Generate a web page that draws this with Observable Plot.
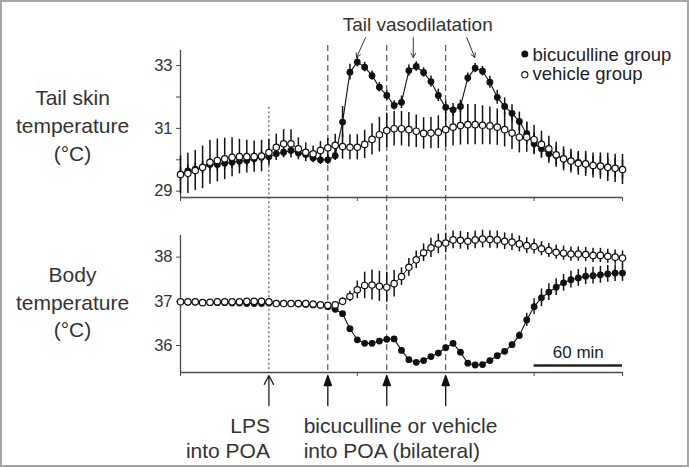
<!DOCTYPE html>
<html><head><meta charset="utf-8">
<script src="https://cdn.jsdelivr.net/npm/d3@7"></script>
<script src="https://cdn.jsdelivr.net/npm/@observablehq/plot@0.6"></script>
<style>
body{margin:0;background:#fff;}
#wrap{position:relative;width:689px;height:467px;overflow:hidden;background:#fff;font-family:"Liberation Sans",Arial,sans-serif;color:#333;}
#wrap > div.p{position:absolute;left:0;}
#border{position:absolute;left:0;top:0;right:0;bottom:0;border:2px solid #a5a5a5;pointer-events:none;}
svg{overflow:visible;}
</style></head><body>
<div id="wrap"><div id="top" class="p" style="top:0"></div><div id="bot" class="p" style="top:215px"></div><div id="border"></div></div>
<script>
// time (min) of each sample
const minutes = [0,5,10,15,20,25,30,35,40,45,50,55,60,65,70,75,80,85,90,95,100,105,110,115,120,125,130,135,140,145,150,155,160,165,170,175,180,185,190,195,200,205,210,215,220,225,230,235,240,245,250,255,260,265,270,275,280,285,290,295,300];

// Tail skin temperature (°C)
const tailVehicle = [29.53,29.57,29.66,29.76,29.92,29.98,30.03,30.08,30.10,30.10,30.10,30.12,30.23,30.40,30.51,30.51,30.35,30.24,30.19,30.30,30.38,30.46,30.42,30.40,30.40,30.49,30.65,30.80,30.93,30.99,30.99,30.96,30.91,30.84,30.85,30.88,30.96,31.04,31.09,31.12,31.12,31.10,31.08,31.04,30.96,30.85,30.72,30.72,30.64,30.49,30.35,30.16,30.03,29.96,29.89,29.87,29.82,29.80,29.76,29.73,29.69];
const tailVehicleSE = [0.60,0.64,0.64,0.68,0.70,0.68,0.66,0.62,0.55,0.52,0.50,0.50,0.42,0.42,0.45,0.45,0.35,0.30,0.25,0.28,0.30,0.35,0.40,0.40,0.40,0.45,0.50,0.55,0.55,0.55,0.55,0.55,0.52,0.50,0.50,0.52,0.55,0.60,0.62,0.64,0.64,0.62,0.60,0.58,0.55,0.52,0.50,0.48,0.45,0.42,0.40,0.40,0.38,0.38,0.38,0.40,0.40,0.42,0.45,0.45,0.48];
const tailBicuculline = [29.55,29.65,29.70,29.76,29.85,29.85,29.89,29.92,29.96,29.98,30.03,30.08,30.10,30.19,30.24,30.30,30.22,30.17,30.06,30.00,30.00,30.13,31.20,32.79,33.11,32.95,32.68,32.31,32.05,31.73,31.83,32.84,32.97,32.78,32.49,32.05,31.67,31.59,31.70,32.61,32.92,32.82,32.47,31.99,31.70,31.48,31.22,30.83,30.51,30.35,30.19,30.14,30.03,29.96,29.92,29.87,29.82,29.80,29.76,29.73,29.69];
const tailBicucullineSE = [0.20,0.20,0.20,0.20,0.20,0.20,0.20,0.20,0.20,0.20,0.20,0.20,0.15,0.15,0.15,0.15,0.15,0.15,0.15,0.15,0.15,0.15,0.50,0.25,0.15,0.15,0.15,0.15,0.15,0.15,0.20,0.18,0.15,0.15,0.18,0.20,0.20,0.20,0.20,0.15,0.15,0.15,0.19,0.22,0.27,0.27,0.30,0.35,0.35,0.30,0.30,0.30,0.30,0.30,0.30,0.30,0.30,0.30,0.30,0.30,0.30];

// Body temperature (°C)
const bodyVehicle = [36.99,36.99,36.99,36.97,36.98,36.99,36.99,36.99,36.99,37.00,37.00,37.00,36.99,36.95,36.95,36.95,36.95,36.95,36.94,36.92,36.91,36.92,37.00,37.11,37.26,37.36,37.37,37.34,37.32,37.40,37.56,37.77,37.94,38.10,38.21,38.30,38.32,38.39,38.38,38.36,38.39,38.41,38.40,38.39,38.36,38.34,38.30,38.26,38.24,38.19,38.15,38.11,38.09,38.07,38.07,38.06,38.04,38.04,38.02,38.00,37.98];
const bodyVehicleSE = [0.05,0.05,0.05,0.05,0.05,0.05,0.05,0.05,0.05,0.05,0.05,0.05,0.05,0.05,0.05,0.05,0.05,0.05,0.05,0.05,0.05,0.06,0.08,0.12,0.20,0.30,0.34,0.34,0.34,0.30,0.20,0.20,0.20,0.20,0.22,0.22,0.22,0.20,0.20,0.20,0.20,0.20,0.20,0.20,0.19,0.19,0.18,0.18,0.17,0.16,0.16,0.16,0.16,0.16,0.16,0.16,0.16,0.16,0.16,0.16,0.16];
const bodyBicuculline = [36.99,36.98,36.98,36.97,36.97,36.97,36.97,36.96,36.96,36.95,36.95,36.95,36.96,36.95,36.95,36.95,36.94,36.93,36.92,36.91,36.88,36.82,36.72,36.38,36.13,36.05,36.05,36.10,36.14,36.15,35.89,35.68,35.62,35.66,35.75,35.83,35.95,36.05,35.85,35.60,35.56,35.57,35.66,35.77,35.87,36.02,36.23,36.58,36.88,37.08,37.21,37.32,37.42,37.49,37.53,37.57,37.58,37.60,37.62,37.64,37.64];
const bodyBicucullineSE = [0.04,0.04,0.04,0.04,0.04,0.04,0.04,0.04,0.04,0.04,0.04,0.04,0.04,0.04,0.04,0.04,0.04,0.04,0.04,0.04,0.04,0.04,0.04,0.05,0.05,0.05,0.05,0.05,0.05,0.05,0.05,0.05,0.05,0.05,0.05,0.05,0.05,0.05,0.05,0.05,0.05,0.05,0.05,0.05,0.05,0.06,0.08,0.15,0.18,0.20,0.19,0.19,0.19,0.19,0.19,0.19,0.19,0.19,0.19,0.19,0.19];

// axes, events, labels
const xTicks = [0,120,240,300];
const tailTicks = [29,30,31,32,33];
const bodyTicks = [36,37,38];
const lpsTime = [60];
const injectionTimes = [100,140,180];
const vasodilatationPeaks = [120,158,200];
const seriesNames = ["bicuculline group","vehicle group"];
const scaleBarMinutes = [240,300];

const rows = (v, e) => minutes.map((t, i) => ({t, v: v[i], e: e[i]}));
const tailV = rows(tailVehicle, tailVehicleSE);
const tailB = rows(tailBicuculline, tailBicucullineSE);
const bodyV = rows(bodyVehicle, bodyVehicleSE);
const bodyB = rows(bodyBicuculline, bodyBicucullineSE);

const FONT = '"Liberation Sans", Arial, sans-serif';
const AX = "#4a4a4a";

function seriesMarks(B, V) {
  return [
    Plot.ruleX(B, {x: "t", y1: d => d.v - d.e, y2: d => d.v + d.e, stroke: "#111", strokeWidth: 1.5}),
    Plot.line(B, {x: "t", y: "v", stroke: "#111", strokeWidth: 1.1}),
    Plot.dot(B, {x: "t", y: "v", r: 3.4, fill: "#111", stroke: "none"}),
    Plot.ruleX(V, {x: "t", y1: d => d.v - d.e, y2: d => d.v + d.e, stroke: "#111", strokeWidth: 1.5}),
    Plot.line(V, {x: "t", y: "v", stroke: "#111", strokeWidth: 1}),
    Plot.dot(V, {x: "t", y: "v", r: 3.2, fill: "white", stroke: "#111", strokeWidth: 1.2})
  ];
}

// ---------- Top panel: tail skin temperature ----------
const topPlot = Plot.plot({
  width: 689, height: 215,
  marginLeft: 180, marginRight: 67, marginTop: 50, marginBottom: 18,
  x: {domain: [0, 300]},
  y: {domain: [28.8, 33.48]},
  style: {fontFamily: FONT, color: "#333", background: "transparent", overflow: "visible"},
  marks: [
    Plot.ruleX(lpsTime, {y1: 31.67, y2: 28.23, stroke: "#333", strokeWidth: 1, strokeDasharray: "2,2.5"}),
    Plot.ruleX(injectionTimes, {y1: 33.64, y2: 28.23, stroke: "#333", strokeWidth: 1, strokeDasharray: "6,4"}),
    Plot.ruleX([0], {stroke: AX, strokeWidth: 1.3}),
    Plot.ruleY([28.8], {stroke: AX, strokeWidth: 1.3}),
    Plot.axisY({ticks: tailTicks, tickFormat: d => (d % 2 === 1 ? String(d) : ""), tickSize: 4, tickPadding: 4, label: null, fontSize: 16.5, stroke: AX}),
    Plot.axisX({ticks: xTicks, tickFormat: () => "", tickSize: 4, label: null, stroke: AX}),
    ...seriesMarks(tailB, tailV),
    Plot.text(["Tail vasodilatation"], {x: () => 161, y: () => 34.31, fontSize: 19, textAnchor: "middle", lineAnchor: "middle", fill: "#333"}),
    Plot.arrow([
      {x1: 125.6, x2: vasodilatationPeaks[0] - 0.5},
      {x1: vasodilatationPeaks[1], x2: vasodilatationPeaks[1]},
      {x1: 194.3, x2: vasodilatationPeaks[2] - 0.3}
    ], {x1: "x1", x2: "x2", y1: () => 33.89, y2: () => 33.26, stroke: "#333", strokeWidth: 1, headLength: 7}),
    Plot.dot([0], {x: () => 233.7, y: () => 33.37, r: 3.5, fill: "#111", stroke: "none"}),
    Plot.dot([0], {x: () => 233.7, y: () => 32.71, r: 3.1, fill: "white", stroke: "#111", strokeWidth: 1.1}),
    Plot.text([seriesNames[0]], {x: () => 238.9, y: () => 33.35, fontSize: 18.5, textAnchor: "start", lineAnchor: "middle", fill: "#222"}),
    Plot.text([seriesNames[1]], {x: () => 238.9, y: () => 32.72, fontSize: 18.5, textAnchor: "start", lineAnchor: "middle", fill: "#222"}),
    Plot.text(["Tail skin\ntemperature\n(°C)"], {frameAnchor: "left", dx: -108, dy: 0, fontSize: 21, lineHeight: 1.33, textAnchor: "middle", fill: "#333"})
  ]
});
document.getElementById("top").appendChild(topPlot);

// ---------- Bottom panel: body temperature ----------
const filledArrow = {
  draw(context, l) {
    context.moveTo(0, 0);
    context.lineTo(0, -l + 9);
    context.moveTo(-3.6, -l + 10);
    context.lineTo(0, -l);
    context.lineTo(3.6, -l + 10);
    context.closePath();
  }
};

const botPlot = Plot.plot({
  width: 689, height: 252,
  marginLeft: 180, marginRight: 67, marginTop: 20, marginBottom: 95,
  x: {domain: [0, 300]},
  y: {domain: [35.39, 38.49]},
  style: {fontFamily: FONT, color: "#333", background: "transparent", overflow: "visible"},
  marks: [
    Plot.ruleX(lpsTime, {y1: 38.96, y2: 35.39, stroke: "#333", strokeWidth: 1, strokeDasharray: "2,2.5"}),
    Plot.ruleX(injectionTimes, {y1: 38.96, y2: 35.39, stroke: "#333", strokeWidth: 1, strokeDasharray: "6,4"}),
    Plot.ruleX([0], {stroke: AX, strokeWidth: 1.3}),
    Plot.ruleY([35.39], {stroke: AX, strokeWidth: 1.3}),
    Plot.axisY({ticks: bodyTicks, tickFormat: d => String(d), tickSize: 4, tickPadding: 4, label: null, fontSize: 16.5, stroke: AX}),
    Plot.axisX({ticks: xTicks, tickFormat: () => "", tickSize: 4, label: null, stroke: AX}),
    ...seriesMarks(bodyB, bodyV),
    // 60 min scale bar
    Plot.ruleY([35.548], {x1: scaleBarMinutes[0], x2: scaleBarMinutes[1], stroke: "#222", strokeWidth: 2.6}),
    Plot.text(["60 min"], {x: () => (scaleBarMinutes[0] + scaleBarMinutes[1]) / 2, y: () => 35.84, fontSize: 17, textAnchor: "middle", lineAnchor: "middle", fill: "#222"}),
    // event arrows
    Plot.arrow(lpsTime, {x1: d => d, x2: d => d, y1: () => 34.643, y2: () => 35.321, stroke: "#222", strokeWidth: 1.3, headLength: 12, headAngle: 55}),
    Plot.vector(injectionTimes, {x: d => d, y: () => 34.643, length: 30, rotate: 0, anchor: "start", shape: filledArrow, fill: "#111", stroke: "#111", strokeWidth: 1.3}),
    Plot.text(["LPS\ninto POA"], {x: () => 60.7, y: () => 34.416, fontSize: 21, lineHeight: 1.19, textAnchor: "end", lineAnchor: "top", fill: "#333"}),
    Plot.text(["bicuculline or vehicle\ninto POA (bilateral)"], {x: () => 83.6, y: () => 34.416, fontSize: 21, lineHeight: 1.19, textAnchor: "start", lineAnchor: "top", fill: "#333"}),
    Plot.text(["Body\ntemperature\n(°C)"], {frameAnchor: "left", dx: -108, dy: -3, fontSize: 21, lineHeight: 1.3, textAnchor: "middle", fill: "#333"})
  ]
});
document.getElementById("bot").appendChild(botPlot);
</script>
</body></html>
